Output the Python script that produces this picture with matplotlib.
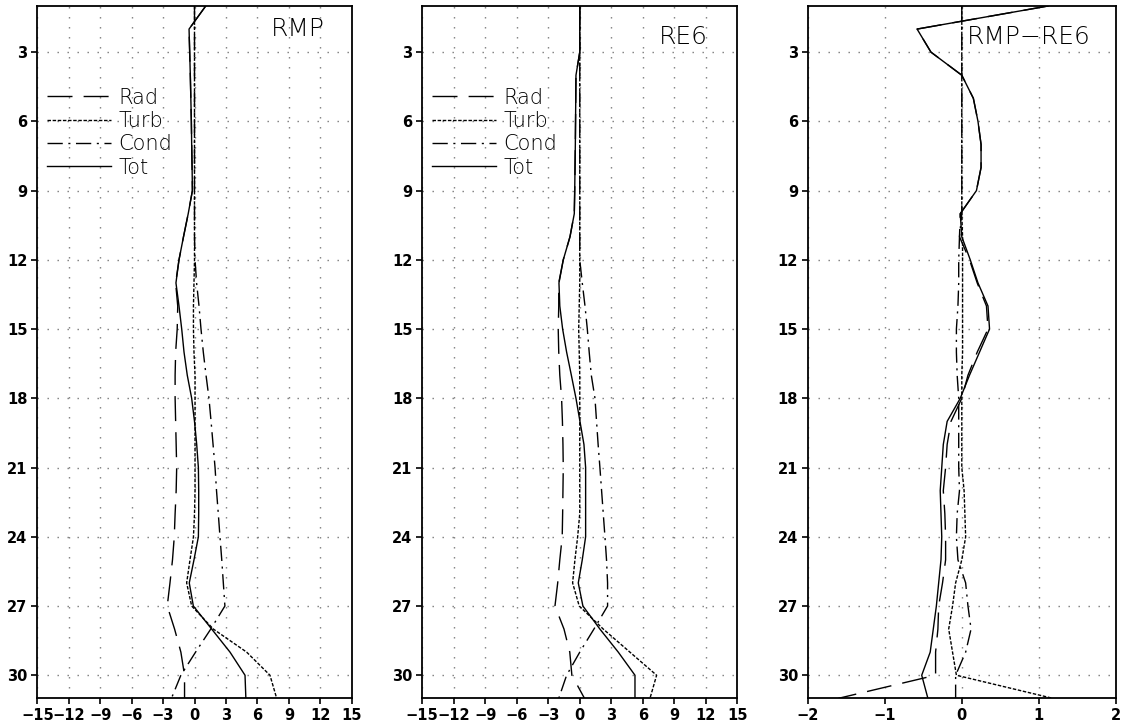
#!/usr/bin/python3

#
# Vertical profiles of heating terms (Rad, Turb, Cond, Tot) for RMP, RE6
# and their difference, drawn in three side-by-side panels.
#

import matplotlib
matplotlib.use('Agg')
import matplotlib.pyplot as plt
import numpy as np


# data (model levels 1..31)

levels = list(range(1, 32))

# RMP
rmp_rad = [1.07, -0.52, -0.46, -0.40, -0.35, -0.30, -0.27, -0.23, -0.20, -0.60,
           -1.05, -1.48, -1.80, -1.60, -1.65, -1.80, -1.85, -1.85, -1.80, -1.75,
           -1.70, -1.75, -1.85, -1.93, -2.10, -2.34, -2.60, -1.90, -1.30, -0.95,
           -0.95]
rmp_turb = [0.0, 0.0, 0.0, 0.0, 0.0, 0.0, 0.0, 0.0, 0.0, 0.0,
            0.0, 0.0, -0.05, -0.10, -0.10, -0.05, 0.05, 0.05, 0.05, 0.05,
            0.05, 0.05, 0.0, -0.10, -0.43, -0.75, -0.27, 1.80, 4.98, 7.20,
            7.84]
rmp_cond = [0.0, 0.0, 0.0, 0.0, 0.0, 0.0, 0.0, 0.0, 0.0, 0.0,
            0.0, 0.05, 0.20, 0.43, 0.62, 0.84, 1.10, 1.38, 1.58, 1.77,
            1.96, 2.10, 2.27, 2.43, 2.60, 2.75, 2.90, 1.55, 0.10, -1.30,
            -2.20]
rmp_tot = [1.07, -0.52, -0.46, -0.40, -0.35, -0.30, -0.27, -0.23, -0.20, -0.60,
           -1.05, -1.48, -1.77, -1.48, -1.22, -1.00, -0.69, -0.27, 0.00, 0.21,
           0.37, 0.40, 0.40, 0.37, -0.05, -0.50, -0.11, 1.64, 3.39, 4.82,
           4.90]

# RE6
re6_rad = [0.0, 0.0, 0.0, -0.36, -0.38, -0.40, -0.42, -0.45, -0.48, -0.52,
           -0.93, -1.57, -2.00, -2.00, -2.05, -2.00, -1.90, -1.73, -1.65, -1.60,
           -1.57, -1.60, -1.63, -1.67, -1.90, -2.10, -2.36, -1.50, -0.95, -0.75,
           0.45]
re6_turb = [0.0, 0.0, 0.0, 0.0, 0.0, 0.0, 0.0, 0.0, 0.0, 0.0,
            0.0, 0.0, 0.0, -0.05, -0.10, -0.05, 0.0, 0.0, 0.0, 0.0,
            0.0, 0.0, 0.0, -0.20, -0.46, -0.68, -0.05, 2.24, 4.78, 7.32,
            6.69]
re6_cond = [0.0, 0.0, 0.0, 0.0, 0.0, 0.0, 0.0, 0.0, 0.0, 0.0,
            0.0, 0.0, 0.24, 0.50, 0.72, 0.90, 1.10, 1.45, 1.60, 1.75,
            1.92, 2.08, 2.24, 2.40, 2.55, 2.65, 2.65, 1.35, 0.0, -1.25,
            -2.00]
re6_tot = [0.0, 0.0, 0.0, -0.36, -0.38, -0.40, -0.42, -0.45, -0.48, -0.52,
           -0.93, -1.57, -1.98, -1.90, -1.63, -1.25, -0.80, -0.36, 0.02, 0.40,
           0.56, 0.56, 0.56, 0.56, 0.24, -0.14, 0.30, 1.92, 3.67, 5.26,
           5.26]

# RMP-RE6
diff_rad = [1.12, -0.58, -0.40, 0.0, 0.15, 0.21, 0.25, 0.25, 0.19, -0.02,
            -0.03, 0.10, 0.20, 0.32, 0.34, 0.20, 0.08, 0.0, -0.14, -0.19,
            -0.21, -0.24, -0.22, -0.21, -0.21, -0.25, -0.30, -0.31, -0.34, -0.34,
            -1.60]
diff_turb = [0.0, 0.0, 0.0, 0.0, 0.0, 0.0, 0.0, 0.0, 0.0, 0.0,
             0.01, 0.01, 0.01, 0.01, 0.01, 0.01, 0.0, 0.0, 0.0, 0.0,
             0.0, 0.03, 0.04, 0.05, 0.0, -0.08, -0.12, -0.17, -0.12, -0.07,
             1.18]
diff_cond = [0.0, 0.0, 0.0, 0.0, 0.0, 0.0, 0.0, 0.0, 0.0, 0.0,
             -0.03, -0.04, -0.04, -0.05, -0.07, -0.07, -0.06, -0.04, -0.04, -0.04,
             -0.04, -0.03, -0.06, -0.07, -0.05, 0.05, 0.08, 0.12, 0.05, -0.08,
             -0.08]
diff_tot = [1.12, -0.58, -0.40, 0.0, 0.15, 0.21, 0.25, 0.25, 0.19, -0.02,
            0.0, 0.11, 0.21, 0.34, 0.36, 0.23, 0.10, -0.02, -0.19, -0.24,
            -0.26, -0.28, -0.27, -0.26, -0.27, -0.30, -0.33, -0.37, -0.41, -0.52,
            -0.44]

series_names = ['Rad', 'Turb', 'Cond', 'Tot']
y_ticks = list(range(3, 31, 3))
x_ticks_big = list(range(-15, 16, 3))
x_ticks_diff = [-2, -1, 0, 1, 2]


# styles (GrADS-like line styles)
styles = {
    'Rad': (0, (18, 8)),
    'Turb': (0, (2.5, 1.2)),
    'Cond': (0, (11, 4, 1.5, 4)),
    'Tot': '-',
}


def plot_panel(ax, series, title, xticks, title_pos, title_ha, show_legend):
    for name, values in zip(series_names, series):
        ax.plot(values, levels, color='black', linewidth=1.0,
                linestyle=styles[name], label=name)

    ax.set_xlim(xticks[0], xticks[-1])
    ax.set_ylim(31, 1)
    ax.set_xticks(xticks)
    ax.set_yticks(y_ticks)
    ax.grid(True, linestyle=(0, (1, 6.2)), color='#7a7a7a', linewidth=1.0)
    ax.tick_params(direction='out', length=4, width=1.2, labelsize=10.5,
                   top=False, right=False, pad=3)
    for lbl in ax.get_xticklabels() + ax.get_yticklabels():
        lbl.set_fontweight('bold')
    for sp in ax.spines.values():
        sp.set_linewidth(1.3)

    ax.text(title_pos[0], title_pos[1], title, transform=ax.transAxes,
            ha=title_ha, va='center', fontsize=18, fontweight='light')

    if show_legend:
        leg = ax.legend(loc='upper left', bbox_to_anchor=(0.03, 0.882),
                        frameon=False, fontsize=15, handlelength=3.1,
                        handletextpad=0.35, labelspacing=0.16, borderpad=0,
                        borderaxespad=0)
        for t in leg.get_texts():
            t.set_fontweight('light')


# main

fig = plt.figure(figsize=(11.23, 7.22), dpi=100)

ax1 = fig.add_axes([0.0332, 0.0328, 0.280, 0.9589])
ax2 = fig.add_axes([0.3760, 0.0328, 0.2805, 0.9589])
ax3 = fig.add_axes([0.7192, 0.0328, 0.2745, 0.9589])

plot_panel(ax1, [rmp_rad, rmp_turb, rmp_cond, rmp_tot], 'RMP', x_ticks_big,
           (0.915, 0.967), 'right', True)
plot_panel(ax2, [re6_rad, re6_turb, re6_cond, re6_tot], 'RE6', x_ticks_big,
           (0.907, 0.955), 'right', True)
plot_panel(ax3, [diff_rad, diff_turb, diff_cond, diff_tot], 'RMP\u2212RE6',
           x_ticks_diff, (0.517, 0.955), 'left', False)

plt.savefig('out.png', dpi=100)
